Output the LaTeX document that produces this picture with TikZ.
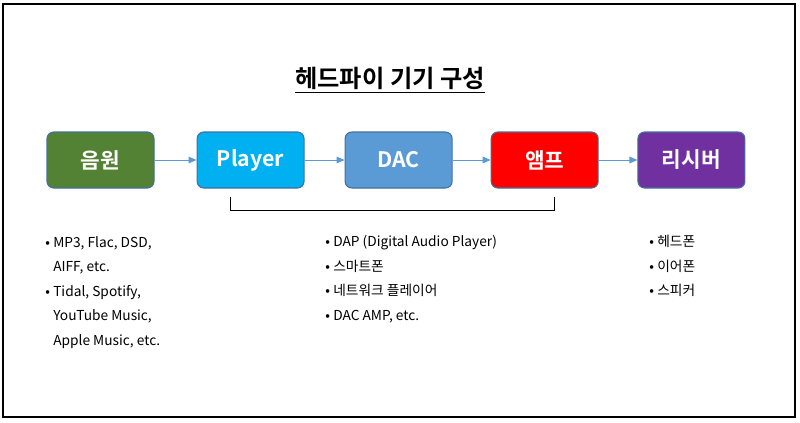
\documentclass[tikz,border=0pt]{standalone}
\usepackage{fontspec}
\setmainfont{Noto Sans CJK KR}[BoldFont={Noto Sans CJK KR Bold}]
\usetikzlibrary{positioning,arrows.meta}
\definecolor{rand}{HTML}{41719C}
\definecolor{pijlblauw}{HTML}{5B9BD5}
\definecolor{groen}{HTML}{548235}
\definecolor{hemel}{HTML}{00B0F0}
\definecolor{dacblauw}{HTML}{5B9BD5}
\definecolor{rood}{HTML}{FF0000}
\definecolor{paars}{HTML}{7030A0}
\newcommand{\punt}{\makebox[6pt][l]{•}}
\newcommand{\insp}{\hspace*{6pt}}

\begin{document}
\begin{tikzpicture}[x=0.75pt,y=-0.75pt,
  blok/.style={draw=rand, line width=0.8pt, rounded corners=5pt,
    minimum width=80.25pt, minimum height=42pt, text=white,
    font=\fontsize{16}{16}\selectfont\bfseries},
  pijl/.style={draw=pijlblauw, line width=0.7pt, -{Triangle[length=6pt,width=5pt]}},
  lijst/.style={anchor=north west, align=left, inner sep=0pt,
    font=\fontsize{10.3}{18.4}\selectfont}]
\useasboundingbox (0,0) rectangle (800,422);
\draw[line width=0.9pt] (3,4) rectangle (795,417);

\node[font=\fontsize{18.2}{18.2}\selectfont\bfseries] (TITEL) at (390,80) {\underline{헤드파이 기기 구성}};

\node[blok, fill=groen] (BRON) at (100.5,160) {음원};
\node[blok, fill=hemel, right=31.5pt of BRON] (SPELER) {Player};
\node[blok, fill=dacblauw, right=30pt of SPELER] (DAC) {DAC};
\node[blok, fill=rood, right=28.5pt of DAC] (AMP) {앰프};
\node[blok, fill=paars, right=29pt of AMP] (ONTV) {리시버};

\draw[pijl] (BRON) -- (SPELER);
\draw[pijl] (SPELER) -- (DAC);
\draw[pijl] (DAC) -- (AMP);
\draw[pijl] (AMP) -- (ONTV);

\coordinate (HL) at ([xshift=-15.4pt,yshift=-6pt]SPELER.south);
\coordinate (HR) at ([xshift=7.1pt,yshift=-6pt]AMP.south);
\draw[line width=0.7pt] (HL) -- ++(0,14) -| (HR);

\node[lijst] (L1) at (45,236) {\punt MP3, Flac, DSD,\\ \insp AIFF, etc.\\
  \punt Tidal, Spotify,\\ \insp YouTube Music,\\ \insp Apple Music, etc.};
\node[lijst] (L2) at (325,235) {\punt DAP (Digital Audio Player)\\ \punt 스마트폰\\
  \punt 네트워크 플레이어\\ \punt DAC AMP, etc.};
\node[lijst] (L3) at (649,235) {\punt 헤드폰\\ \punt 이어폰\\ \punt 스피커};
\end{tikzpicture}
\end{document}
